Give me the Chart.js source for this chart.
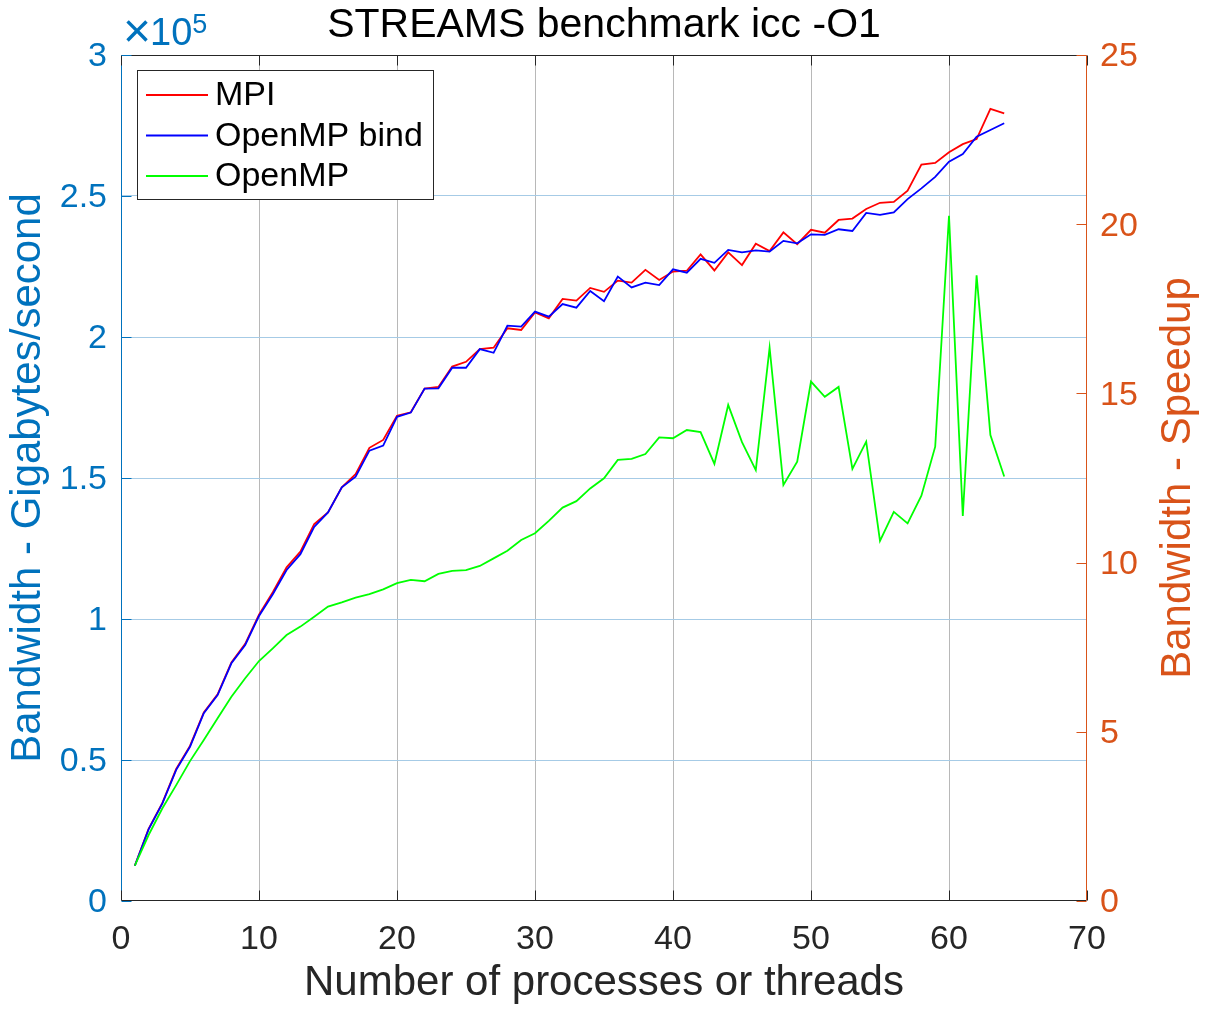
<!DOCTYPE html>
<html>
<head>
<meta charset="utf-8">
<title>STREAMS benchmark icc -O1</title>
<script src="https://cdn.jsdelivr.net/npm/chart.js@4.4.1/dist/chart.umd.min.js"></script>
<style>
  html, body { margin: 0; padding: 0; background: #fff; }
  #chart { display: block; }
</style>
</head>
<body>
<canvas id="chart" width="1208" height="1009"></canvas>
<script>
// number of processes / threads
const threads = [1, 2, 3, 4, 5, 6, 7, 8, 9, 10, 11, 12, 13, 14, 15, 16,
  17, 18, 19, 20, 21, 22, 23, 24, 25, 26, 27, 28, 29, 30, 31, 32,
  33, 34, 35, 36, 37, 38, 39, 40, 41, 42, 43, 44, 45, 46, 47, 48,
  49, 50, 51, 52, 53, 54, 55, 56, 57, 58, 59, 60, 61, 62, 63, 64];

// bandwidth
const mpi = [12500, 25600, 34800, 46800, 55000, 66900, 73300, 84600, 91200, 101500,
  109500, 118300, 123900, 133700, 137800, 146700, 151400, 160700, 163500, 172100,
  173300, 181700, 182300, 189500, 191200, 195700, 196200, 203100, 202500, 208700,
  206600, 213500, 212900, 217400, 216000, 220000, 219300, 223800, 220200, 223200,
  223500, 229300, 223600, 230000, 225500, 233100, 230500, 237100, 232900, 238000,
  237000, 241500, 242000, 245400, 247600, 247900, 251900, 261100, 261700, 265500,
  268400, 270200, 280900, 279300];

const ompBind = [12500, 25400, 34600, 46500, 54700, 66600, 73000, 84300, 90800, 101100,
  108800, 117400, 123000, 132700, 137800, 146700, 150500, 159700, 161500, 171700,
  173200, 181700, 181800, 189100, 189100, 195700, 194400, 204000, 203700, 209000,
  207200, 211700, 210400, 216300, 212700, 221400, 217600, 219300, 218400, 224000,
  222800, 227700, 226300, 230900, 230000, 230700, 230300, 234100, 233200, 236400,
  236200, 238200, 237600, 244000, 243300, 244200, 248900, 252700, 256800, 262200,
  264900, 271000, 273400, 275800];

const omp = [12500, 23400, 32900, 41100, 49600, 57100, 64800, 72400, 79000, 85100,
  89600, 94300, 97300, 100800, 104400, 105900, 107600, 108800, 110500, 112700,
  113900, 113400, 116000, 117100, 117300, 118800, 121500, 124200, 128000, 130400,
  134800, 139500, 141800, 146300, 149900, 156400, 156800, 158500, 164400, 164100,
  167000, 166300, 155000, 175900, 162700, 152800, 196200, 147500, 155800, 184200,
  178800, 182300, 153200, 162900, 127700, 138000, 133900, 143700, 161100, 243000,
  136500, 221900, 165200, 150500];

const seriesNames = ['MPI', 'OpenMP bind', 'OpenMP'];
const seriesColors = ['#ff0000', '#0000ff', '#00ff00'];

const FONT = '"Liberation Sans", Arial, Helvetica, sans-serif';
const BLUE = '#0072BD';
const ORANGE = '#D95319';
const DARK = '#262626';

function pts(ys) {
  return threads.map((t, i) => ({x: t, y: ys[i]}));
}

// title, x10^5 label, right axis label, box, inner ticks and legend
const decorations = {
  id: 'decorations',
  afterDraw(chart) {
    const {ctx, chartArea: a, scales} = chart;
    const L = Math.round(a.left) + 0.5, R = Math.round(a.right) - 0.5;
    const T = Math.round(a.top) + 0.5, B = Math.round(a.bottom) - 0.5;
    ctx.save();
    ctx.lineWidth = 1;

    function seg(x1, y1, x2, y2, c) {
      ctx.strokeStyle = c;
      ctx.beginPath(); ctx.moveTo(x1, y1); ctx.lineTo(x2, y2); ctx.stroke();
    }

    // box
    seg(L, B, R, B, DARK);
    seg(L, T, R, T, DARK);
    seg(L, T, L, B, BLUE);
    seg(R, T, R, B, ORANGE);

    // inward ticks
    scales.x.ticks.forEach(t => {
      const px = Math.round(scales.x.getPixelForValue(t.value)) + 0.5;
      seg(px, B, px, B - 10, DARK);
      seg(px, T, px, T + 10, DARK);
    });
    scales.y.ticks.forEach(t => {
      const py = Math.round(scales.y.getPixelForValue(t.value)) + 0.5;
      seg(L, py, L + 10, py, BLUE);
    });
    scales.y2.ticks.forEach(t => {
      const py = Math.round(scales.y2.getPixelForValue(t.value)) + 0.5;
      seg(R, py, R - 10, py, ORANGE);
    });

    // title
    ctx.fillStyle = '#000';
    ctx.font = '41px ' + FONT;
    ctx.textAlign = 'center';
    ctx.textBaseline = 'alphabetic';
    ctx.fillText('STREAMS benchmark icc -O1', (a.left + a.right) / 2, 37);

    // exponent label
    ctx.fillStyle = BLUE;
    ctx.textAlign = 'left';
    let ex = a.left + 2;
    ctx.font = '48px ' + FONT;
    ctx.fillText('\u00d7', ex, 47);
    ex += ctx.measureText('\u00d7').width - 1;
    ctx.font = '38px ' + FONT;
    ctx.fillText('10', ex, 45);
    ex += ctx.measureText('10').width;
    ctx.font = '27px ' + FONT;
    ctx.fillText('5', ex, 33);

    // right axis title, reading upwards
    ctx.save();
    ctx.translate(1190, (a.top + a.bottom) / 2);
    ctx.rotate(-Math.PI / 2);
    ctx.fillStyle = ORANGE;
    ctx.font = '42px ' + FONT;
    ctx.textAlign = 'center';
    ctx.fillText('Bandwidth - Speedup', 0, 0);
    ctx.restore();

    // legend
    const lx = 137.5, ly = 70.5, lw = 296, lh = 129;
    ctx.fillStyle = '#fff';
    ctx.fillRect(lx, ly, lw, lh);
    ctx.strokeStyle = DARK;
    ctx.strokeRect(lx, ly, lw, lh);
    ctx.font = '34px ' + FONT;
    ctx.textBaseline = 'middle';
    ctx.textAlign = 'left';
    seriesNames.forEach((name, i) => {
      const y = 95 + i * 40.5;
      ctx.strokeStyle = seriesColors[i];
      ctx.lineWidth = 1.8;
      ctx.beginPath(); ctx.moveTo(146, y); ctx.lineTo(208, y); ctx.stroke();
      ctx.fillStyle = '#000';
      ctx.fillText(name, 215, y + 1);
    });
    ctx.restore();
  }
};

new Chart(document.getElementById('chart'), {
  type: 'line',
  data: {
    datasets: [
      {label: seriesNames[0], data: pts(mpi), borderColor: seriesColors[0], order: 3},
      {label: seriesNames[1], data: pts(ompBind), borderColor: seriesColors[1], order: 2},
      {label: seriesNames[2], data: pts(omp), borderColor: seriesColors[2], order: 1}
    ]
  },
  options: {
    responsive: false,
    animation: false,
    devicePixelRatio: 1,
    layout: {padding: {top: 55, left: 0, right: 0, bottom: 0}},
    elements: {
      line: {borderWidth: 1.8, tension: 0, fill: false},
      point: {radius: 0, hoverRadius: 0}
    },
    plugins: {
      legend: {display: false},
      tooltip: {enabled: false}
    },
    scales: {
      x: {
        type: 'linear',
        position: 'bottom',
        min: 0, max: 70,
        afterFit(s) { s.height = 108; },
        border: {display: false},
        grid: {
          drawTicks: false,
          color: c => (c.tick.value === 0 || c.tick.value === 70) ? 'rgba(0,0,0,0)' : '#b8b8b8'
        },
        ticks: {stepSize: 10, color: DARK, padding: 18, font: {family: FONT, size: 34}},
        title: {
          display: true,
          text: 'Number of processes or threads',
          color: DARK,
          font: {family: FONT, size: 42},
          padding: {top: 0, bottom: 0}
        }
      },
      y: {
        position: 'left',
        min: 0, max: 300000,
        afterFit(s) { s.width = 121; },
        border: {display: false},
        grid: {
          drawTicks: false,
          color: c => (c.tick.value === 0 || c.tick.value === 300000) ? 'rgba(0,0,0,0)' : '#a6cbe6'
        },
        ticks: {
          stepSize: 50000,
          color: BLUE,
          padding: 14,
          labelOffset: 2,
          font: {family: FONT, size: 34},
          callback: v => String(v / 100000)
        },
        title: {
          display: true,
          text: 'Bandwidth - Gigabytes/second',
          color: BLUE,
          font: {family: FONT, size: 42},
          padding: {top: 3, bottom: 0}
        }
      },
      y2: {
        position: 'right',
        min: 0, max: 25,
        afterFit(s) { s.width = 121; },
        border: {display: false},
        grid: {display: false, drawTicks: false},
        ticks: {stepSize: 5, color: ORANGE, padding: 13, labelOffset: 2, font: {family: FONT, size: 34}}
      }
    }
  },
  plugins: [decorations]
});
</script>
</body>
</html>
